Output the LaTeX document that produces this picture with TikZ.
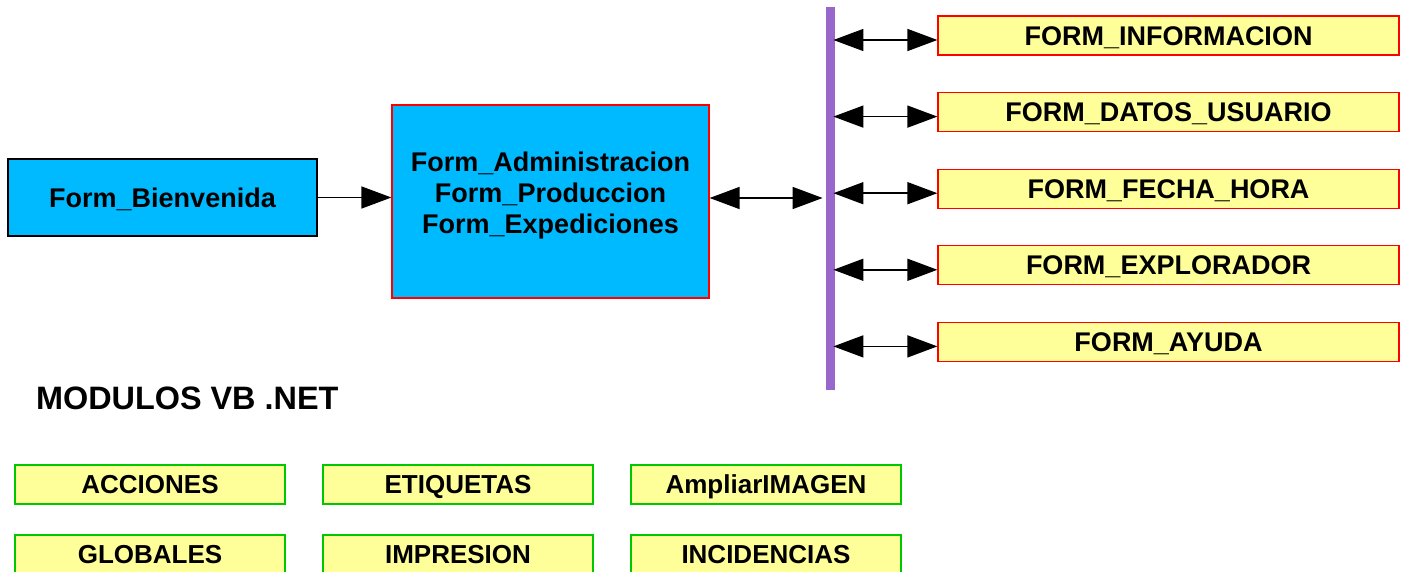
\documentclass[tikz,border=0pt]{standalone}
\usepackage{fontspec}
\setmainfont{Liberation Sans}
\usetikzlibrary{arrows.meta}
\definecolor{formblue}{RGB}{0,186,255}
\definecolor{formyellow}{RGB}{255,255,153}
\definecolor{formpurple}{RGB}{153,102,204}
\definecolor{formgreen}{RGB}{0,200,0}

\begin{document}
\begin{tikzpicture}[x=0.5pt,y=-0.5pt,
  font=\fontsize{13.5}{15.5}\selectfont\bfseries,
  >={Triangle[length=15pt,width=11pt]},
  link/.style={line width=0.75pt},
  bluebox/.style={draw=black,fill=formblue,line width=0.6pt,inner sep=0pt,align=center},
  formbox/.style={draw=red,fill=formyellow,line width=0.6pt,inner sep=0pt,
    minimum width=230.5pt,minimum height=19.5pt,text height=9.7pt,text depth=0pt},
  modbox/.style={draw=formgreen,fill=formyellow,line width=0.6pt,inner sep=0pt,
    minimum width=135pt,minimum height=19.5pt,text height=9.4pt,text depth=0pt,
    font=\fontsize{13}{15}\selectfont\bfseries}]
\useasboundingbox (0,0) rectangle (1409,572);

% main forms
\node[bluebox,minimum width=154.5pt,minimum height=38.5pt,text height=9.7pt,text depth=0pt] (bienvenida) at (162.5,197.5) {Form\_Bienvenida};
\node[bluebox,draw=red,minimum width=158.5pt,minimum height=96.5pt] (areas) at (550.5,201.5) {};
\node[align=center,inner sep=0pt] (areastext) at ([yshift=3pt]areas.center)
  {Form\_Administracion\\Form\_Produccion\\Form\_Expediciones};
\node[fill=formpurple,inner sep=0pt,minimum width=4.5pt,minimum height=191.5pt] (bar) at (830.5,198.5) {};

\draw[link,->] (bienvenida.east) -- (bienvenida.east -| areas.west);
\draw[link,<->,shorten >=1.5pt] ([yshift=1.75pt]areas.east) -- ([yshift=1.75pt]areas.east -| bar.west);

% right hand forms
\foreach \t [count=\i] in {FORM\_INFORMACION, FORM\_DATOS\_USUARIO, FORM\_FECHA\_HORA, FORM\_EXPLORADOR, FORM\_AYUDA}
{
  \node[formbox] (f\i) at (1168.5,{35.5+76.6*(\i-1)}) {\t};
  \draw[link,<->,shorten <=-1pt] ([yshift=-2.25pt]f\i.west -| bar.east) -- ([yshift=-2.25pt]f\i.west);
}

% modules
\node[anchor=west,font=\fontsize{16.2}{18}\selectfont\bfseries] (modulos) at (29,398) {MODULOS VB .NET};
\foreach \t/\x/\y [count=\i] in {ACCIONES/150/484.5, ETIQUETAS/458/484.5, AmpliarIMAGEN/766/484.5,
  GLOBALES/150/554.5, IMPRESION/458/554.5, INCIDENCIAS/766/554.5}
  \node[modbox] (m\i) at (\x,\y) {\t};
\end{tikzpicture}
\end{document}
